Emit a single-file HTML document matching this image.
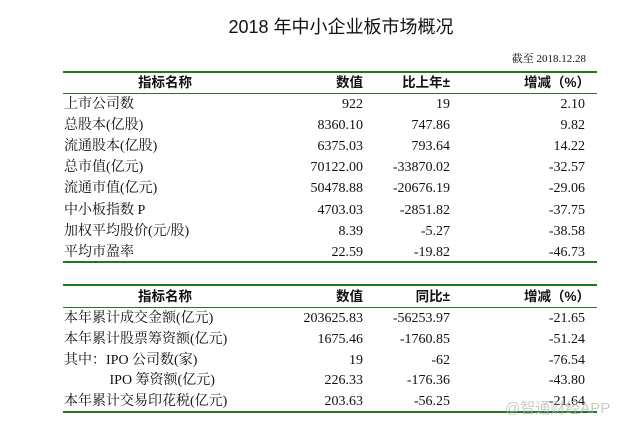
<!DOCTYPE html>
<html><head><meta charset="utf-8"><style>
body{margin:0;width:640px;height:430px;background:#fff;position:relative;overflow:hidden;font-family:"Liberation Serif","Noto Serif CJK SC",serif;color:#111}
.t{position:absolute;white-space:nowrap;font-size:14px;line-height:21px}
.r{text-align:right}
.b{font-weight:bold;font-family:"Liberation Sans","Noto Sans CJK SC",sans-serif;font-size:13.5px}
.ln{position:absolute;left:63px;width:534px;background:#1e7a1e}
</style></head><body>
<div class="t" style="left:0;width:682px;text-align:center;top:15px;font-size:18px;line-height:24px;font-family:'Liberation Sans','Noto Sans CJK SC',sans-serif;">2018 年中小企业板市场概况</div>
<div class="t r" style="right:54px;top:51px;font-size:11px;line-height:16px">截至 2018.12.28</div>

<div class="ln" style="top:71px;height:2px"></div>
<div class="ln" style="top:93px;height:1px"></div>
<div class="ln" style="top:261px;height:2px"></div>
<div class="ln" style="top:284px;height:2px"></div>
<div class="ln" style="top:307px;height:1px"></div>
<div class="ln" style="top:411px;height:2px"></div>

<div id="a"></div>
<script>
function row(y,c,bold){
 var cls=bold?' b':'';
 var h='';
 if(bold){h+='<div class="t b" style="left:110px;width:110px;text-align:center;top:'+y+'px">'+c[0]+'</div>';}
 else h+='<div class="t" style="left:64px;top:'+y+'px">'+c[0]+'</div>';
 h+='<div class="t r'+cls+'" style="right:277px;top:'+y+'px">'+c[1]+'</div>';
 h+='<div class="t r'+cls+'" style="right:190px;top:'+y+'px">'+c[2]+'</div>';
 h+='<div class="t r'+cls+'" style="right:'+(bold?50:55)+'px;top:'+y+'px">'+c[3]+'</div>';
 return h;}
var h='';
h+=row(72,['指标名称','数值','比上年±','增减（%）'],1);
var d1=[['上市公司数','922','19','2.10'],['总股本(亿股)','8360.10','747.86','9.82'],['流通股本(亿股)','6375.03','793.64','14.22'],['总市值(亿元)','70122.00','-33870.02','-32.57'],['流通市值(亿元)','50478.88','-20676.19','-29.06'],['中小板指数 P','4703.03','-2851.82','-37.75'],['加权平均股价(元/股)','8.39','-5.27','-38.58'],['平均市盈率','22.59','-19.82','-46.73']];
for(var i=0;i<8;i++)h+=row(94+i*21.1,d1[i],0);
h+=row(286,['指标名称','数值','同比±','增减（%）'],1);
var d2=[['本年累计成交金额(亿元)','203625.83','-56253.97','-21.65'],['本年累计股票筹资额(亿元)','1675.46','-1760.85','-51.24'],['其中：IPO 公司数(家)','19','-62','-76.54'],['&nbsp;&nbsp;&nbsp;&nbsp;&nbsp;&nbsp;&nbsp;&nbsp;&nbsp;&nbsp;&nbsp;&nbsp;&nbsp;IPO 筹资额(亿元)','226.33','-176.36','-43.80'],['本年累计交易印花税(亿元)','203.63','-56.25','-21.64']];
for(var i=0;i<5;i++)h+=row(308+i*20.8,d2[i],0);
document.getElementById('a').innerHTML=h;
</script>
<div class="t" style="left:505px;top:398px;font-size:15px;color:rgba(180,180,180,0.7);font-family:'Liberation Sans','Noto Sans CJK SC',sans-serif">@智通财经APP</div>
</body></html>
